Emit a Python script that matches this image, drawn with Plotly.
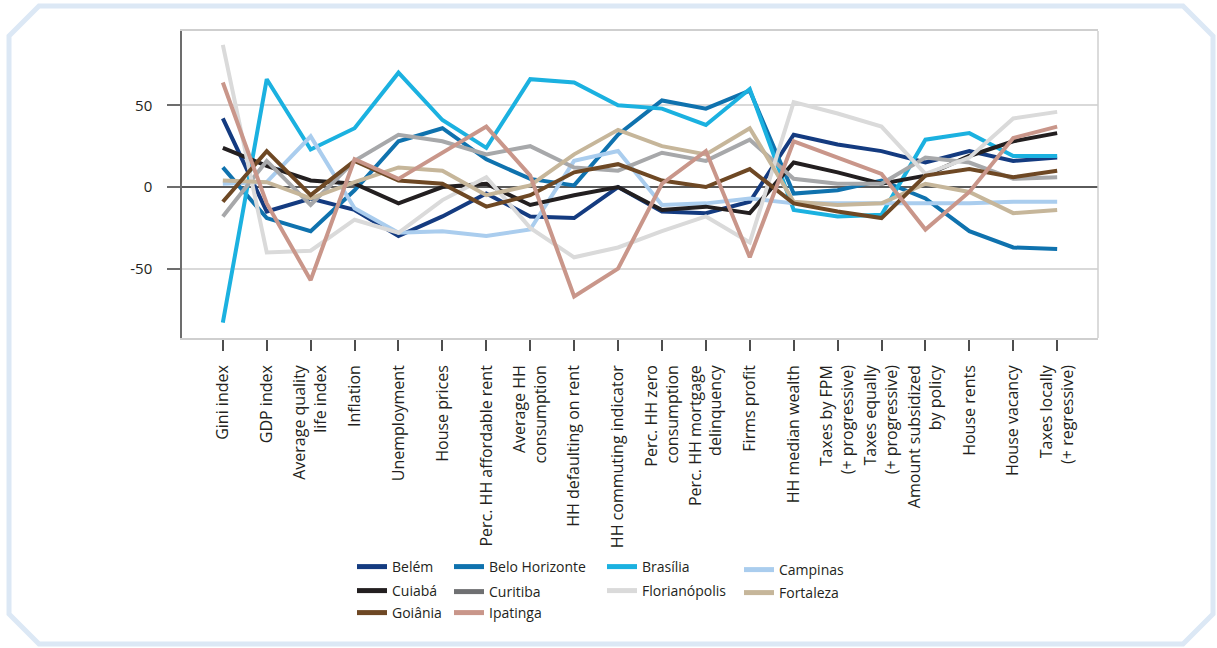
import plotly.graph_objects as go

categories = ["Gini index", "GDP index", "Average quality<br>life index", "Inflation",
              "Unemployment", "House prices", "Perc. HH affordable rent",
              "Average HH<br>consumption", "HH defaulting on rent", "HH commuting indicator",
              "Perc. HH zero<br>consumption", "Perc. HH mortgage<br>delinquency", "Firms profit",
              "HH median wealth", "Taxes by FPM<br>(+ progressive)", "Taxes equally<br>(+ progressive)",
              "Amount subsidized<br>by policy", "House rents", "House vacancy",
              "Taxes locally<br>(+ regressive)"]

belem = [42, -15, -7, -14, -30, -18, -4, -18, -19, 0, -15, -16, -9, 32, 26, 22, 15, 22, 16, 18]
belo_horizonte = [12, -19, -27, -2, 28, 36, 17, 5, 1, 32, 53, 48, 59, -4, -2, 4, -7, -27, -37, -38]
brasilia = [-83, 66, 23, 36, 70, 41, 24, 66, 64, 50, 48, 38, 60, -14, -18, -17, 29, 33, 19, 19]
campinas = [2, 3, 31, -13, -28, -27, -30, -26, 16, 22, -11, -10, -7, -10, -10, -10, -10, -10, -9, -9]
cuiaba = [24, 13, 4, 2, -10, 0, 2, -11, -5, 0, -14, -12, -16, 15, 9, 2, 7, 19, 28, 33]
curitiba = [-18, 16, -11, 16, 32, 28, 20, 25, 12, 10, 21, 16, 29, 5, 2, 2, 18, 15, 5, 6]
florianopolis = [87, -40, -39, -20, -28, -8, 6, -25, -43, -37, -27, -18, -34, 52, 45, 37, 8, 18, 42, 46]
fortaleza = [4, 3, -7, 3, 12, 10, -5, 1, 20, 35, 25, 20, 36, -9, -11, -10, 2, -3, -16, -14]
goiania = [-9, 22, -5, 16, 4, 2, -12, -5, 9, 14, 4, 0, 11, -10, -15, -19, 7, 11, 6, 10]
ipatinga = [64, -10, -57, 17, 5, 21, 37, 7, -67, -50, 2, 22, -43, 28, 18, 8, -26, -3, 30, 37]

series = [
    ("Belém", belem, "#143b80", "#143b80"),
    ("Belo Horizonte", belo_horizonte, "#0f72ae", "#0f72ae"),
    ("Brasília", brasilia, "#1bb1e0", "#1bb1e0"),
    ("Campinas", campinas, "#aacdee", "#aacdee"),
    ("Cuiabá", cuiaba, "#231f20", "#231f20"),
    ("Curitiba", curitiba, "#a7a8aa", "#6f7072"),
    ("Florianópolis", florianopolis, "#dadada", "#dadada"),
    ("Fortaleza", fortaleza, "#c6b69a", "#c6b69a"),
    ("Goiânia", goiania, "#6e4824", "#6e4824"),
    ("Ipatinga", ipatinga, "#c9968a", "#c9968a"),
]

# legend entry placement (pixel left of legend box, pixel centre of entry)
legend_pos = {
    "Belém": (352, 567), "Cuiabá": (352, 591), "Goiânia": (352, 613),
    "Belo Horizonte": (449, 567), "Curitiba": (449, 592), "Ipatinga": (449, 613),
    "Brasília": (602, 567), "Florianópolis": (602, 591),
    "Campinas": (739, 570), "Fortaleza": (739, 593),
}

FONT = "Open Sans"
L, R, T, B = 182, 119, 31, 310
W, H = 1217, 648
PW, PH = W - L - R, H - T - B


def px(x):
    return (x - L) / PW


def py(y):
    return (H - B - y) / PH


fig = go.Figure()
x_idx = list(range(len(categories)))
for name, vals, col, lcol in series:
    fig.add_trace(go.Scatter(x=x_idx, y=vals, mode="lines", name=name,
                             line=dict(color=col, width=4), showlegend=False,
                             hoverinfo="skip"))

legends = {}
for i, (name, vals, col, lcol) in enumerate(series):
    key = "legend" if i == 0 else f"legend{i + 1}"
    fig.add_trace(go.Scatter(x=[None], y=[None], mode="lines", name=name,
                             line=dict(color=lcol, width=5), legend=key))
    lx, ly = legend_pos[name]
    legends[key] = dict(x=px(lx), y=py(ly), xanchor="left", yanchor="middle",
                        orientation="v", font=dict(family=FONT, size=14, color="#231f20"),
                        bgcolor="rgba(0,0,0,0)", itemwidth=30)

fig.update_layout(
    width=W, height=H,
    margin=dict(l=L, r=R, t=T, b=B, autoexpand=False),
    paper_bgcolor="white", plot_bgcolor="white",
    font=dict(family=FONT, size=15, color="#231f20"),
    xaxis=dict(range=[-0.93, 19.93], tickmode="array", tickvals=x_idx, ticktext=categories,
               tickangle=-90, ticks="outside", ticklen=11, tickcolor="#4d4d4d", tickwidth=1.5,
               ticklabelstandoff=8,
               showline=True, linecolor="#cfcfcf", linewidth=1.5, mirror=True,
               showgrid=False, zeroline=False, tickfont=dict(family=FONT, size=16, color="#231f20")),
    yaxis=dict(range=[-92.4, 95.5], tickvals=[-50, 0, 50], ticktext=["-50", "0", "50"],
               ticks="outside", ticklen=13, tickcolor="#6d6d6d", tickwidth=1.5,
               ticklabelstandoff=12,
               showline=True, linecolor="#6d6d6d", linewidth=1.5,
               showgrid=True, gridcolor="#d9d9d9", gridwidth=1.5,
               zeroline=True, zerolinecolor="#5a5a5a", zerolinewidth=1.5,
               tickfont=dict(family=FONT, size=15, color="#231f20")),
    **legends,
)

# right border of plot frame
fig.add_shape(type="line", xref="paper", yref="paper", x0=1, x1=1, y0=0, y1=1,
              line=dict(color="#cfcfcf", width=1.5))

# decorative chamfered frame around the figure
c = 30
x0f, x1f, y0f, y1f = 9, 1213, 6, 644
pts = [(x0f, y0f + c), (x0f + c, y0f), (x1f - c, y0f), (x1f, y0f + c),
       (x1f, y1f - c), (x1f - c, y1f), (x0f + c, y1f), (x0f, y1f - c)]
path = "M " + " L ".join(f"{px(a):.5f},{py(b):.5f}" for a, b in pts) + " Z"
fig.add_shape(type="path", xref="paper", yref="paper", path=path,
              line=dict(color="#dce8f5", width=5), layer="below")

fig.write_html("out.html", config={"displayModeBar": False},
               post_script="document.body.style.margin='0';")
